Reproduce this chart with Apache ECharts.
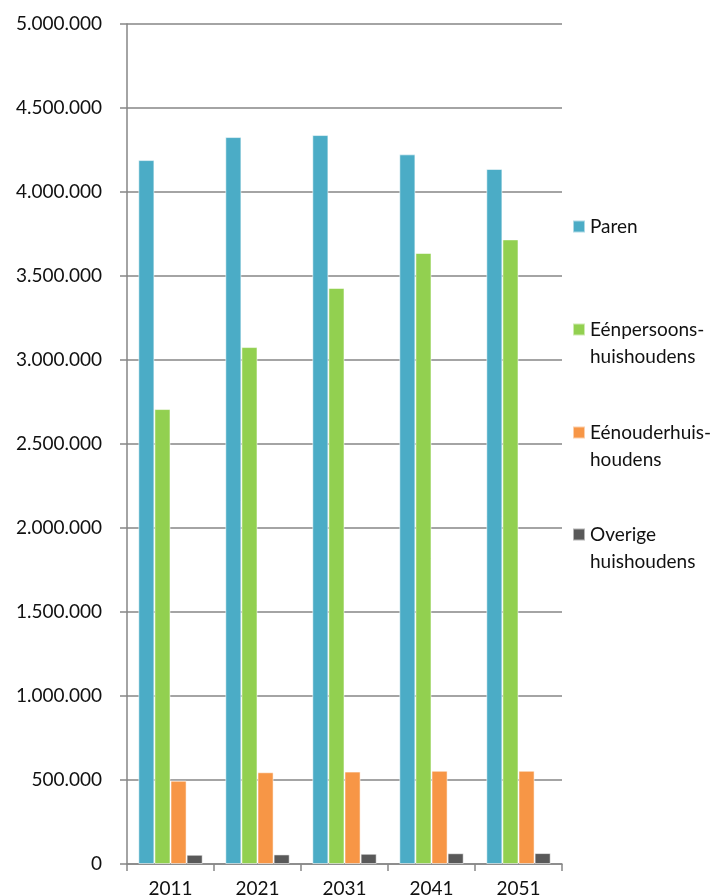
<!DOCTYPE html>
<html>
<head>
<meta charset="utf-8">
<script src="https://cdn.jsdelivr.net/npm/echarts@6/dist/echarts.min.js"></script>
<style>
  html, body { margin: 0; padding: 0; background: #ffffff; }
  #chart { width: 722px; height: 895px; }
</style>
</head>
<body>
<div id="chart"></div>
<script>
// Households by type, 2011–2051
const years = ['2011', '2021', '2031', '2041', '2051'];
const paren = [4190000, 4327000, 4339000, 4224000, 4137000];
const eenpersoons = [2708000, 3077000, 3429000, 3637000, 3718000];
const eenouder = [496000, 546000, 550000, 555000, 555000];
const overige = [55000, 57000, 61000, 64000, 65000];

const seriesNames = ['Paren', 'Eénpersoons-huishoudens', 'Eénouderhuis-houdens', 'Overige huishoudens'];
const legendLabels = ['Paren', 'Eénpersoons-\nhuishoudens', 'Eénouderhuis-\nhoudens', 'Overige\nhuishoudens'];
const colors = ['#4BACC6', '#92D050', '#F79646', '#595959'];
const seriesData = [paren, eenpersoons, eenouder, overige];

const FONT = 'Lato';
const AXIS = '#868686';
const LINE_H = 27;

function dotted(v) {
  return String(v).replace(/\B(?=(\d{3})+(?!\d))/g, '.');
}

// one legend block per series so each can sit at its own height;
// two-line labels get an empty leading line so the square lines up with line one
const iconCenters = [226, 329, 432, 534];
const legends = seriesNames.map((name, i) => {
  const twoLines = legendLabels[i].indexOf('\n') >= 0;
  const text = twoLines ? '\n' + legendLabels[i] : legendLabels[i];
  const half = twoLines ? LINE_H * 1.5 : LINE_H / 2;
  return {
    left: 572,
    top: Math.round(iconCenters[i] - half),
    orient: 'vertical',
    padding: 0,
    itemWidth: 12,
    itemHeight: 12,
    icon: 'rect',
    selectedMode: false,
    data: [name],
    formatter: () => text,
    textStyle: {
      fontFamily: FONT,
      fontSize: 19,
      color: '#111',
      lineHeight: LINE_H
    }
  };
});

const chart = echarts.init(document.getElementById('chart'), null, { renderer: 'canvas' });
chart.setOption({
  animation: false,
  backgroundColor: '#ffffff',
  color: colors,
  grid: { left: 127, right: 160, top: 24, bottom: 31, containLabel: false, outerBoundsMode: 'none' },
  legend: legends,
  xAxis: {
    type: 'category',
    data: years,
    axisLine: { lineStyle: { color: AXIS, width: 1.5 } },
    axisTick: { show: true, length: 7, lineStyle: { color: AXIS, width: 1.5 } },
    axisLabel: { fontFamily: FONT, fontSize: 19, color: '#111', margin: 15 }
  },
  yAxis: {
    type: 'value',
    min: 0,
    max: 5000000,
    interval: 500000,
    axisLine: { show: true, lineStyle: { color: AXIS, width: 1.5 } },
    axisTick: { show: true, length: 7, lineStyle: { color: AXIS, width: 1.5 } },
    splitLine: { show: true, lineStyle: { color: AXIS, width: 1.5 } },
    axisLabel: { fontFamily: FONT, fontSize: 19, color: '#111', margin: 25, formatter: dotted }
  },
  series: seriesNames.map((name, i) => ({
    name: name,
    type: 'bar',
    data: seriesData[i],
    barGap: '0%',
    barCategoryGap: '26%',
    itemStyle: { color: colors[i], borderColor: 'rgba(255,255,255,0.55)', borderWidth: 1 }
  }))
});
</script>
</body>
</html>
